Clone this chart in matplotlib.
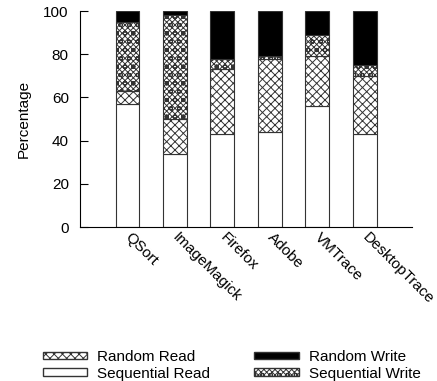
import numpy as np
import matplotlib
matplotlib.use('Agg')
import matplotlib.pyplot as plt
from matplotlib.patches import Patch

plt.rcParams['font.family'] = ['Liberation Sans', 'DejaVu Sans']
plt.rcParams['hatch.linewidth'] = 0.7

traces = ['QSort', 'ImageMagick', 'Firefox', 'Adobe', 'VMTrace', 'DesktopTrace']
seq_read = [57, 34, 43, 44, 56, 43]
rand_read = [6, 16, 30, 34, 23, 27]
seq_write = [32, 48, 5, 1, 10, 5]
rand_write = [5, 2, 22, 21, 11, 25]

rr_hatch = 'xxxx'
sw_hatch = 'xxxxxxoo'

fntsz = 11
fig = plt.figure(figsize=(4.37, 3.81), dpi=100)
ax = fig.add_axes([0.183, 0.404, 0.76, 0.567])

x = np.arange(len(traces))
w = 0.5
ec = '#333333'
b1 = np.array(seq_read)
b2 = b1 + np.array(rand_read)
b3 = b2 + np.array(seq_write)
ax.bar(x, seq_read, w, color='white', edgecolor=ec, linewidth=0.8)
ax.bar(x, rand_read, w, bottom=b1, color='white', edgecolor=ec, linewidth=0.8, hatch=rr_hatch)
ax.bar(x, seq_write, w, bottom=b2, color='white', edgecolor=ec, linewidth=0.8, hatch=sw_hatch)
ax.bar(x, rand_write, w, bottom=b3, color='black', edgecolor=ec, linewidth=0.8)

ax.set_xlim(-1, 6)
ax.set_ylim(0, 100)
ax.set_yticks([0, 20, 40, 60, 80, 100])
ax.tick_params(axis='y', direction='in', length=6, pad=8, labelsize=fntsz)
ax.set_xticks(x)
ax.set_xticklabels(traces, rotation=-45, ha='left', va='center', rotation_mode='anchor', fontsize=fntsz)
ax.tick_params(axis='x', length=0, pad=6)
ax.spines['top'].set_visible(False)
ax.spines['right'].set_visible(False)
ax.set_ylabel('Percentage', fontsize=fntsz, labelpad=9)

handles = [Patch(facecolor='white', edgecolor=ec, hatch=rr_hatch, label='Random Read'),
           Patch(facecolor='white', edgecolor=ec, label='Sequential Read'),
           Patch(facecolor='black', edgecolor=ec, label='Random Write'),
           Patch(facecolor='white', edgecolor=ec, hatch=sw_hatch, label='Sequential Write')]
fig.legend(handles=handles, ncol=2, loc='lower center', bbox_to_anchor=(0.53, -0.035),
           frameon=False, fontsize=fntsz, handlelength=2.9, handleheight=0.35,
           labelspacing=0.15, columnspacing=2.9, handletextpad=0.65)

fig.savefig('out.png', dpi=100)
